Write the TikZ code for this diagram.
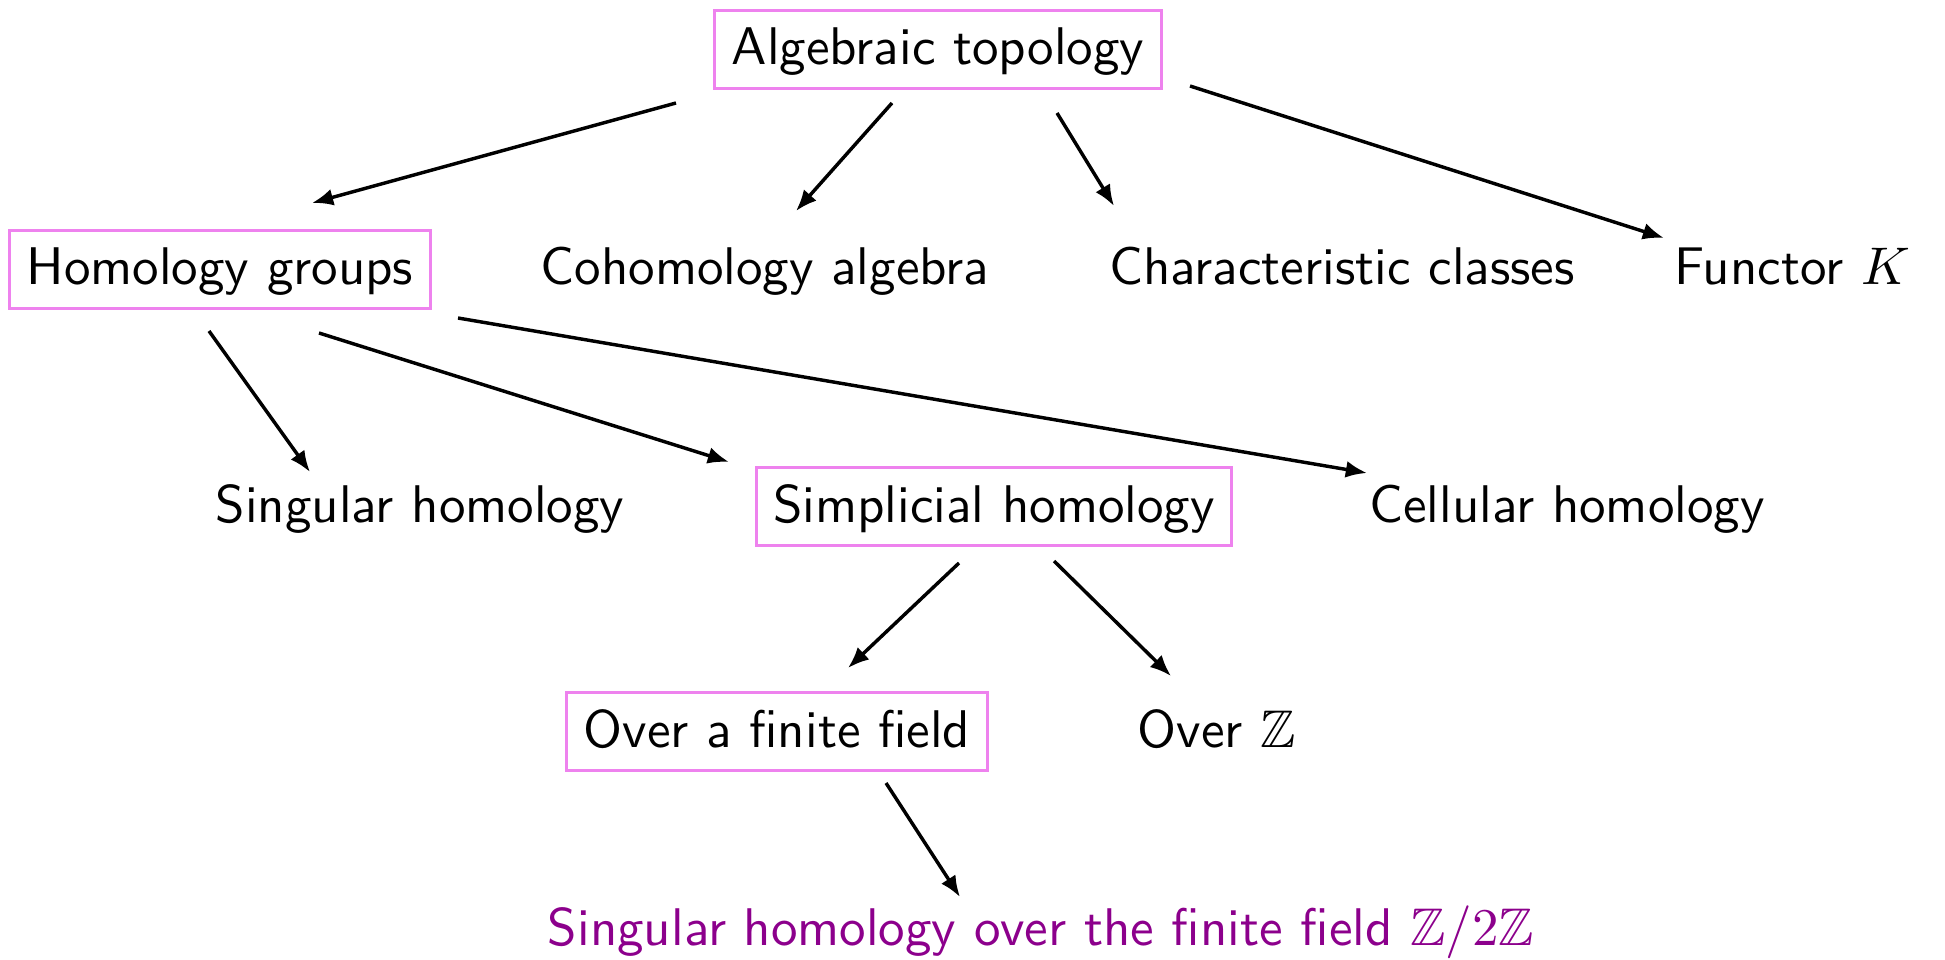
\documentclass[tikz,border=0pt]{standalone}
\usepackage{amssymb}
\usetikzlibrary{arrows.meta,calc}
\definecolor{boxpink}{RGB}{238,130,238}
\definecolor{deeppurple}{RGB}{140,0,140}
\begin{document}
\begin{tikzpicture}[x=0.188679pt,y=-0.188679pt,
  every node/.style={font=\sffamily, anchor=base, text height=7pt, text depth=1.2pt, inner xsep=3.2pt, inner ysep=3.2pt},
  boxed/.style={draw=boxpink, line width=0.55pt},
  arr/.style={-{Latex[length=4pt,width=3.2pt]}, line width=0.65pt}]
\useasboundingbox (0,0) rectangle (1945,960);
% row 1
\node[boxed] (at) at (938,65) {Algebraic topology};
% row 2
\node[boxed] (hg) at (220,285) {Homology groups};
\node (coh) at (765,285) {Cohomology algebra};
\node (chr) at (1342,285) {Characteristic classes};
\node (fun) at (1792,285) {Functor $K$};
% row 3
\node (sing) at (420,522) {Singular homology};
\node[boxed] (simp) at (994,522) {Simplicial homology};
\node (cell) at (1567,522) {Cellular homology};
% row 4
\node[boxed] (fin) at (777,747) {Over a finite field};
\node (oz) at (1217,747) {Over $\mathbb{Z}$};
% row 5
\node[text=deeppurple] (bot) at (1041,945) {Singular homology over the finite field $\mathbb{Z}/2\mathbb{Z}$};
% arrows
\draw[arr] ($(at.base)+(-262,38)$) -- ($(hg.base)+(92,-82)$);
\draw[arr] ($(at.base)+(-46,38)$) -- ($(coh.base)+(31,-74)$);
\draw[arr] ($(at.base)+(119,48)$) -- ($(chr.base)+(-228,-79)$);
\draw[arr] ($(at.base)+(252,21)$) -- ($(fun.base)+(-128,-47)$);
\draw[arr] ($(hg.base)+(-11,46)$) -- ($(sing.base)+(-110,-50)$);
\draw[arr] ($(hg.base)+(99,48)$) -- ($(simp.base)+(-265,-60)$);
\draw[arr] ($(hg.base)+(238,33)$) -- ($(cell.base)+(-200,-49)$);
\draw[arr] ($(simp.base)+(-35,41)$) -- ($(fin.base)+(71,-79)$);
\draw[arr] ($(simp.base)+(60,39)$) -- ($(oz.base)+(-46,-71)$);
\draw[arr] ($(fin.base)+(109,36)$) -- ($(bot.base)+(-81,-48)$);
\end{tikzpicture}
\end{document}
